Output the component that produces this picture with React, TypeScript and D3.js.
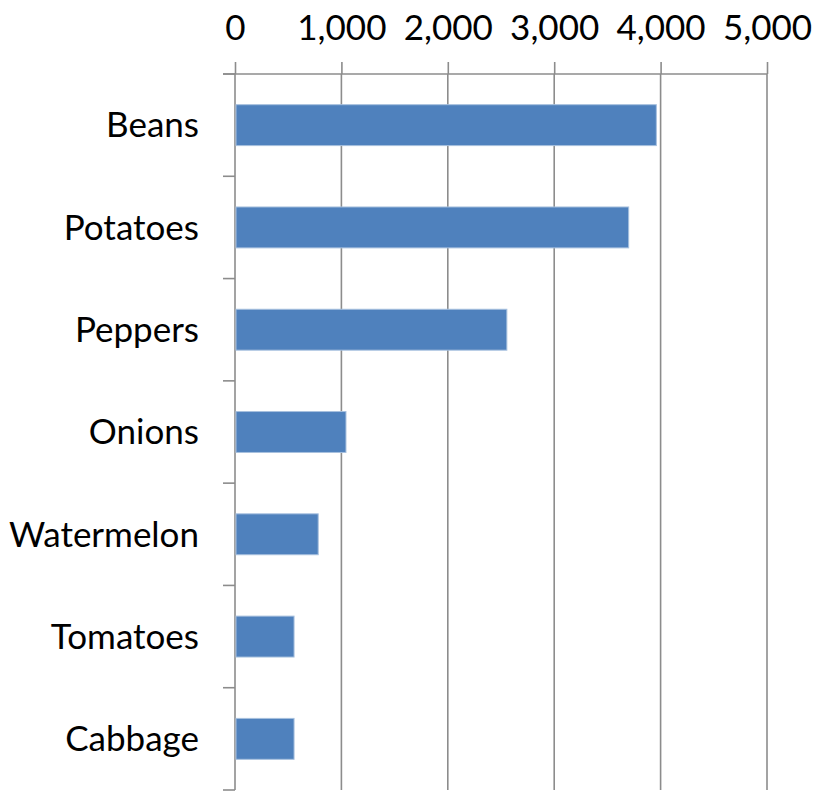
import { useEffect, useRef } from "react";
import * as d3 from "d3";

const width = 815;
const height = 791;
const margin = { top: 74, right: 48, bottom: 1, left: 235 };

const categories = ["Beans", "Potatoes", "Peppers", "Onions", "Watermelon", "Tomatoes", "Cabbage"];
const values = [3960, 3700, 2555, 1043, 782, 555, 555];
const xTicks = [0, 1000, 2000, 3000, 4000, 5000];

const font = "Lato, 'Open Sans', sans-serif";
const gridColor = "#8c8c8c";

const App = () => {
  const xAxisRef = useRef<SVGGElement>(null);
  const yAxisRef = useRef<SVGGElement>(null);

  const xScale = d3
    .scaleLinear()
    .domain([0, 5000])
    .range([margin.left, width - margin.right]);

  const yScale = d3
    .scaleBand<string>()
    .domain(categories)
    .range([margin.top, height - margin.bottom])
    .paddingInner(0.6)
    .paddingOuter(0.3);

  // band edges for the category tick marks
  const step = yScale.step();
  const bandEdges = d3.range(categories.length + 1).map((i) => margin.top + i * step);

  useEffect(() => {
    if (xAxisRef.current) {
      const xAxis = d3
        .axisTop(xScale)
        .tickValues(xTicks)
        .tickFormat((d) => d3.format(",")(d as number))
        .tickSize(12)
        .tickPadding(22);
      const g = d3.select(xAxisRef.current).call(xAxis);
      g.select(".domain").remove();
      g.selectAll(".tick line").attr("stroke", gridColor).attr("stroke-width", 1.6);
      g.selectAll(".tick text")
        .attr("fill", "#000")
        .style("font-family", font)
        .style("font-size", "35px");
    }
    if (yAxisRef.current) {
      const g = d3.select(yAxisRef.current);
      g.selectAll("*").remove();
      g.selectAll("text")
        .data(categories)
        .join("text")
        .attr("x", margin.left - 36)
        .attr("y", (d) => (yScale(d) ?? 0) + yScale.bandwidth() / 2)
        .attr("dy", "0.35em")
        .attr("text-anchor", "end")
        .attr("fill", "#000")
        .style("font-family", font)
        .style("font-size", "35px")
        .text((d) => d);
    }
  }, []);

  return (
    <svg width={width} height={height} style={{ position: "absolute", left: 0, top: 0 }}>
      {/* vertical gridlines */}
      {xTicks.slice(1).map((t) => (
        <line
          key={t}
          x1={xScale(t)}
          x2={xScale(t)}
          y1={margin.top}
          y2={height - margin.bottom}
          stroke={gridColor}
          strokeWidth={1.6}
        />
      ))}
      {/* top axis line */}
      <line
        x1={margin.left - 12}
        x2={xScale(5000)}
        y1={margin.top}
        y2={margin.top}
        stroke={gridColor}
        strokeWidth={1.6}
      />
      {/* left axis line and category ticks */}
      <line
        x1={margin.left}
        x2={margin.left}
        y1={margin.top}
        y2={height - margin.bottom}
        stroke={gridColor}
        strokeWidth={1.6}
      />
      {bandEdges.map((y, i) => (
        <line
          key={i}
          x1={margin.left - 12}
          x2={margin.left}
          y1={y}
          y2={y}
          stroke={gridColor}
          strokeWidth={1.6}
        />
      ))}
      {categories.map((c, i) => (
        <rect
          key={c}
          x={xScale(0) + 1}
          y={yScale(c)}
          width={xScale(values[i]) - xScale(0) - 1}
          height={yScale.bandwidth()}
          fill="#4f81bd"
          stroke="#a7c0de"
          strokeWidth={1}
        />
      ))}
      <g ref={xAxisRef} transform={`translate(0, ${margin.top})`} />
      <g ref={yAxisRef} />
    </svg>
  );
};

export default App;
